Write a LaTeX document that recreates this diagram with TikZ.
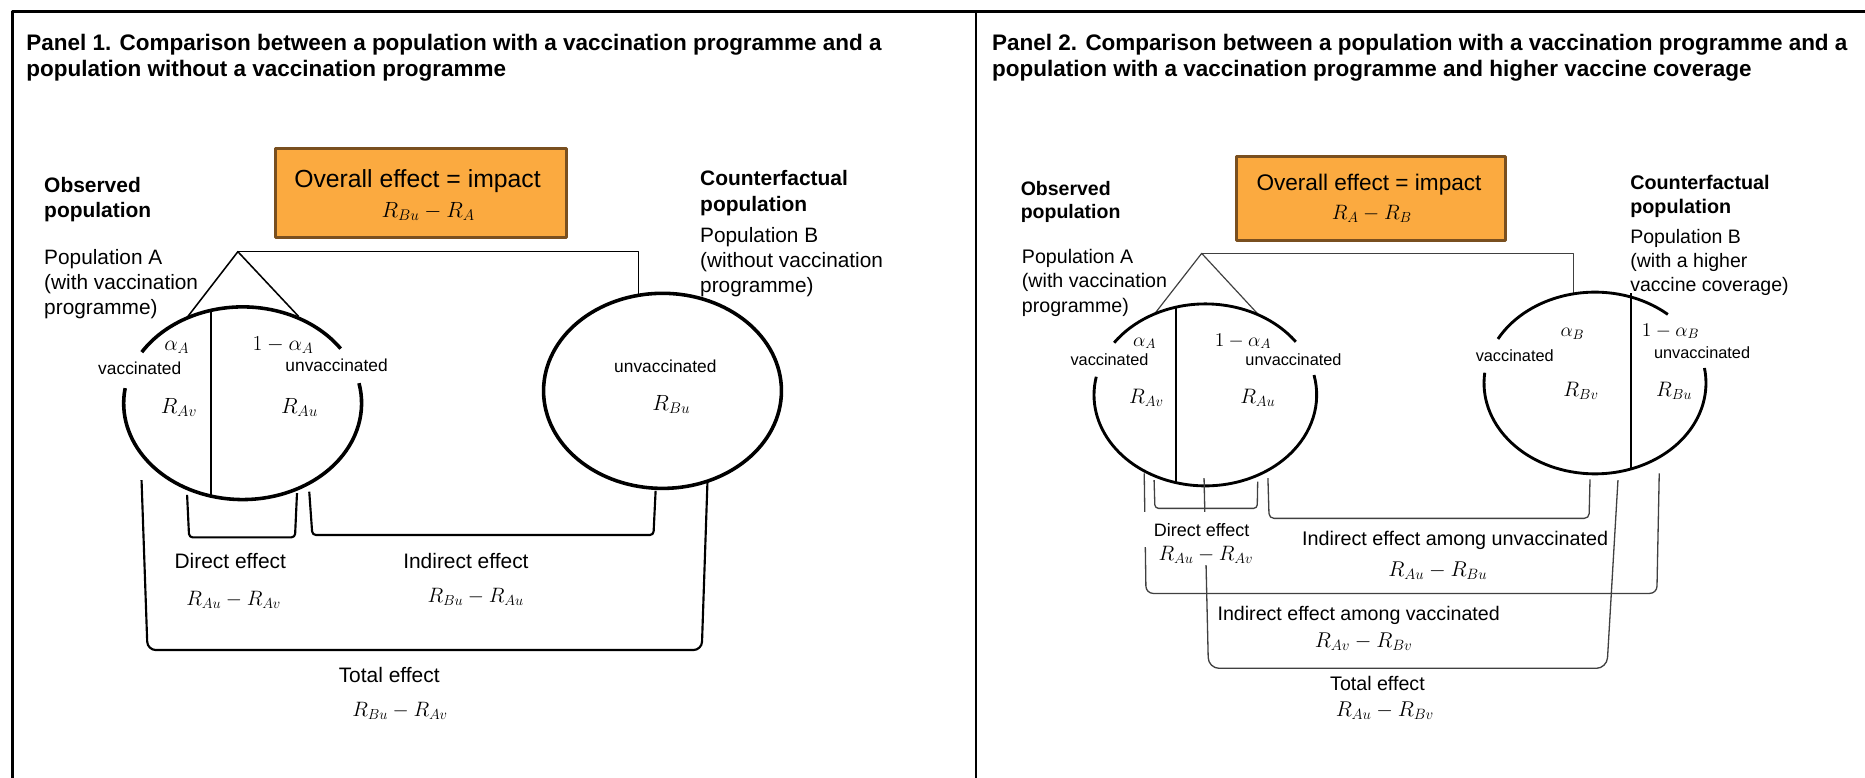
\RequirePackage{fix-cm}
\documentclass[tikz,border=0pt]{standalone}
\usepackage{fontspec}
\setmainfont{Liberation Sans}
\usetikzlibrary{positioning}
\definecolor{impactfill}{RGB}{251,170,64}
\definecolor{impactedge}{RGB}{121,79,31}

\begin{document}
\begin{tikzpicture}[x=1pt,y=1pt,line join=round,
  ttl/.style={anchor=base west,inner sep=0pt,font=\fontsize{18.9}{21}\selectfont\bfseries},
  hd/.style 2 args={anchor=north west,align=left,inner sep=0pt,font=\fontsize{#1}{#2}\selectfont\bfseries},
  txt/.style 2 args={anchor=north west,align=left,inner sep=0pt,font=\fontsize{#1}{#2}\selectfont},
  lbl/.style={anchor=base,inner sep=0pt,font=\fontsize{#1}{#1}\selectfont},
  cover/.style={fill=white,minimum width=100,minimum height=29},
  impact/.style={draw=impactedge,fill=impactfill,line width=2.5pt},
  ring/.style={line width=#1},
  tri/.style={line width=#1},
  brk/.style={line width=1.8pt,rounded corners=#1},
  thin/.style={draw=black!75,line width=1.1pt,rounded corners=#1}]
\useasboundingbox (0,0) rectangle (1568,-654);
% frame
\draw[line width=2pt] (10.5,-654) -- (10.5,-9.8) -- (1568,-9.8);
\draw[line width=2pt] (820.5,-9.8) -- (820.5,-654);
\node[ttl] (t1a) at (22,-42.6) {Panel 1. Comparison between a population with a vaccination programme and a};
\node[ttl] (t1b) at (22,-64) {population without a vaccination programme};
\node[ttl] (t2a) at (834,-42.6) {Panel 2. Comparison between a population with a vaccination programme and a};
\node[ttl] (t2b) at (834,-64) {population with a vaccination programme and higher vaccine coverage};

% panel 1
\node[impact,minimum width=244,minimum height=75] (box1) at (354,-162.5) {};
\node[lbl=20.8] (ov1) at (351,-157.5) {Overall effect = impact};
\node[lbl=18.5] (im1) at (360,-182.7) {$R_{Bu}-R_A$};
\node[hd={17.6}{21}] (obs1) at (37,-148.6) {Observed\\population};
\node[txt={17.5}{21.2}] (popA1) at (37,-209.5) {Population A\\(with vaccination\\programme)};
\node[hd={17.6}{21.6}] (cf1) at (588.5,-142.9) {Counterfactual\\population};
\node[txt={17.5}{21}] (popB1) at (588.5,-190.7) {Population B\\(without vaccination\\programme)};

\coordinate (apx1) at (200,-211.6);
\coordinate (topB1) at (536.7,-248);
\draw[tri=1.3pt] (158,-266) -- (apx1) -- (251,-266);
\draw[tri=1.3pt] (apx1) -- (topB1 |- apx1) -- (topB1);

\coordinate (eA1) at (204,-339);
\draw[ring=3pt] (eA1) ++(34.5:100 and 81) arc[start angle=34.5,end angle=148,x radius=100,y radius=81]
  (eA1) ++(171:100 and 81) arc[start angle=171,end angle=372,x radius=100,y radius=81];
\draw[line width=1.9pt] (177.7,-262) -- (177.7,-417.6);
\coordinate (eB1) at (557,-328.6);
\draw[ring=3pt] (eB1) ellipse[x radius=100,y radius=82];

\node[lbl=18] (aA1) at (148.7,-294.3) {$\alpha_A$};
\node[lbl=18] (naA1) at (238,-294.8) {$1-\alpha_A$};
\node[lbl=14.6] (vA1) at (117.5,-314.5) {vaccinated};
\node[lbl=14.6] (uA1) at (283,-312.5) {unvaccinated};
\node[lbl=18.5] (rAv1) at (150.4,-347.5) {$R_{Av}$};
\node[lbl=18.5] (rAu1) at (251.8,-347.5) {$R_{Au}$};
\node[lbl=14.6] (uB1) at (559.4,-313.3) {unvaccinated};
\node[lbl=18.5] (rBu1) at (564.4,-345) {$R_{Bu}$};

\draw[brk=3pt] (157.3,-416) -- (159,-451.8) -- (248,-451.8) -- (249.7,-414.6);
\draw[brk=3pt] (260,-413.4) -- (262.6,-449.8) -- (549.4,-449.8) -- (551.2,-412.6);
\draw[brk=7pt] (119,-403.6) -- (124,-546.5) -- (590,-546.5) -- (594.8,-405);

\node[lbl=17.6] (de1) at (193.6,-477.8) {Direct effect};
\node[lbl=17.5] (dm1) at (196.5,-508.7) {$R_{Au}-R_{Av}$};
\node[lbl=17.6] (ie1) at (391.7,-477.8) {Indirect effect};
\node[lbl=17.5] (iem1) at (399.9,-506.7) {$R_{Bu}-R_{Au}$};
\node[lbl=17.6] (te1) at (327.2,-573.7) {Total effect};
\node[lbl=17.5] (tem1) at (336.3,-602.5) {$R_{Bu}-R_{Av}$};

% panel 2
\node[impact,minimum width=226,minimum height=71] (box2) at (1152.9,-166.8) {};
\node[lbl=19] (ov2) at (1151,-160.3) {Overall effect = impact};
\node[lbl=17.5] (im2) at (1153.3,-184.4) {$R_A-R_B$};
\node[hd={16.4}{19.6}] (obs2) at (858,-152.3) {Observed\\population};
\node[txt={16.5}{20.3}] (popA2) at (859,-209.6) {Population A\\(with vaccination\\programme)};
\node[hd={16.6}{19.6}] (cf2) at (1370.5,-147.3) {Counterfactual\\population};
\node[txt={16.4}{20}] (popB2) at (1370.5,-192.9) {Population B\\(with a higher\\vaccine coverage)};

\coordinate (apx2) at (1010.3,-213);
\coordinate (topB2) at (1322.8,-247.2);
\draw[tri=1pt,black!75] (971,-263.5) -- (apx2) -- (1058,-264.5);
\draw[tri=1pt,black!75] (apx2) -- (topB2 |- apx2) -- (topB2);

\coordinate (eA2) at (1013.4,-332);
\draw[ring=2.4pt] (eA2) ++(35.7:93.6 and 76.5) arc[start angle=35.7,end angle=145,x radius=93.6,y radius=76.5]
  (eA2) ++(168.5:93.6 and 76.5) arc[start angle=168.5,end angle=372.6,x radius=93.6,y radius=76.5];
\draw[line width=1.5pt] (988.7,-259.2) -- (988.7,-405);
\coordinate (eB2) at (1341,-322);
\draw[ring=2.4pt] (eB2) ++(49:93.3 and 76.4) arc[start angle=49,end angle=151,x radius=93.3,y radius=76.4]
  (eB2) ++(173.5:93.3 and 76.4) arc[start angle=173.5,end angle=369.5,x radius=93.3,y radius=76.4];
\draw[line width=1.5pt] (1371.3,-246.5) -- (1371.3,-394);

\node[lbl=16.4] (aA2) at (962.4,-290.9) {$\alpha_A$};
\node[lbl=16.4] (naA2) at (1045,-290.9) {$1-\alpha_A$};
\node[lbl=13.7] (vA2) at (932.8,-307.7) {vaccinated};
\node[lbl=13.7] (uA2) at (1087.5,-306.9) {unvaccinated};
\node[lbl=17.6] (rAv2) at (963.8,-339.1) {$R_{Av}$};
\node[lbl=17.6] (rAu2) at (1057.6,-339.1) {$R_{Au}$};
\node[lbl=16.4] (aB2) at (1322,-283.1) {$\alpha_B$};
\node[lbl=16.4] (naB2) at (1404.5,-282.5) {$1-\alpha_B$};
\node[lbl=13.7] (vB2) at (1273.5,-304.1) {vaccinated};
\node[lbl=13.7] (uB2) at (1431,-301.6) {unvaccinated};
\node[lbl=17.6] (rBv2) at (1329.2,-333.5) {$R_{Bv}$};
\node[lbl=17.6] (rBu2) at (1407.6,-333.5) {$R_{Bu}$};

\draw[thin=3pt] (970.3,-403.6) -- (971,-427.4) -- (1057,-427.4) -- (1057.4,-405);
\draw[thin=4pt] (1066,-402) -- (1067,-435.8) -- (1336,-435.8) -- (1336.8,-403);
\draw[thin=6pt] (962,-398) -- (963.5,-498.9) -- (1393,-498.9) -- (1395,-398);
\draw[thin=9pt] (1012.3,-402) -- (1016,-561.9) -- (1351,-561.9) -- (1360.3,-403.6);

\node[lbl=15.1,cover] (de2) at (1010.3,-450.7) {Direct effect};
\node[lbl=17.5,fill=white,inner sep=1.5pt] (dm2) at (1013.8,-470.9) {$R_{Au}-R_{Av}$};
\node[lbl=16.6] (iu2) at (1223.4,-458.2) {Indirect effect among unvaccinated};
\node[lbl=18] (ium2) at (1208.9,-484.8) {$R_{Au}-R_{Bu}$};
\node[lbl=16.5] (iv2) at (1142.3,-521.3) {Indirect effect among vaccinated};
\node[lbl=18] (ivm2) at (1146.5,-544.3) {$R_{Av}-R_{Bv}$};
\node[lbl=16.5] (te2) at (1158.1,-580.7) {Total effect};
\node[lbl=18] (tem2) at (1164.3,-602.5) {$R_{Au}-R_{Bv}$};
\end{tikzpicture}
\end{document}
